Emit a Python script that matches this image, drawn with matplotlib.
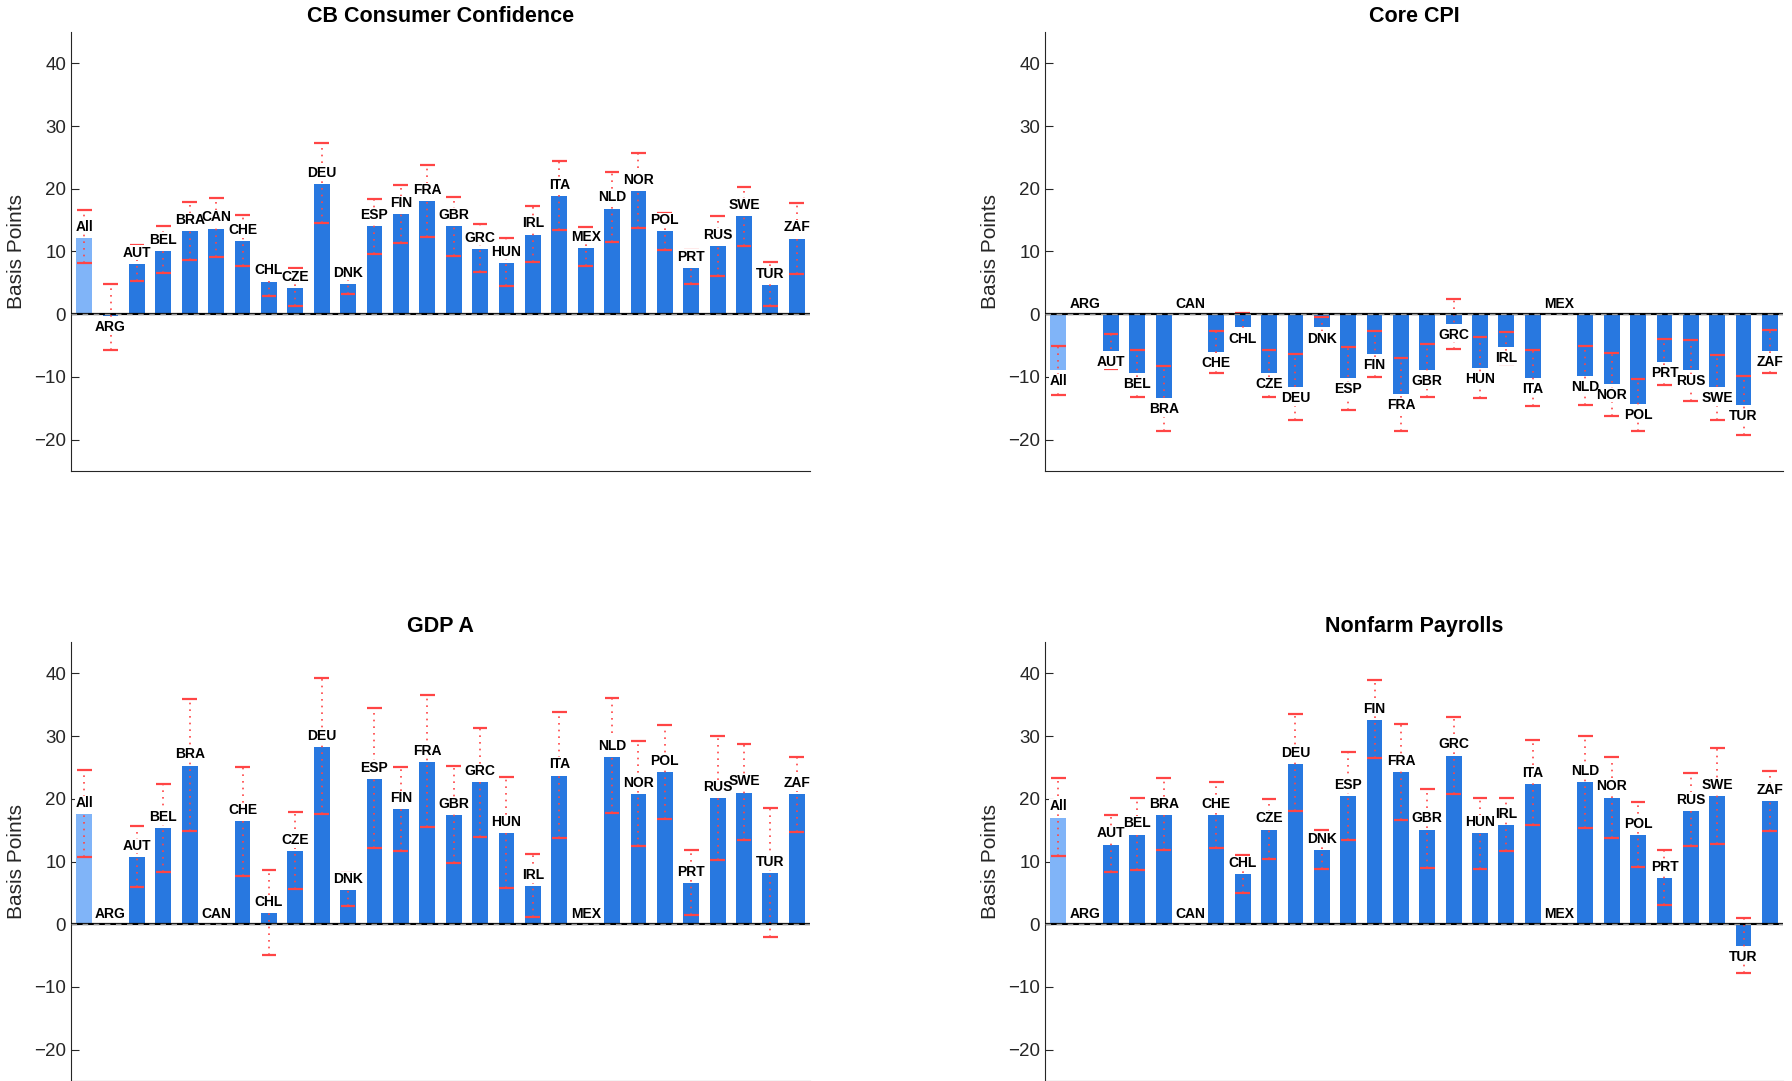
import numpy as np
import matplotlib
matplotlib.use("Agg")
import matplotlib.pyplot as plt

plt.rcParams["font.family"] = ["Liberation Sans", "DejaVu Sans"]

countries = ["All", "ARG", "AUT", "BEL", "BRA", "CAN", "CHE", "CHL", "CZE", "DEU",
             "DNK", "ESP", "FIN", "FRA", "GBR", "GRC", "HUN", "IRL", "ITA", "MEX",
             "NLD", "NOR", "POL", "PRT", "RUS", "SWE", "TUR", "ZAF"]

titles = ["CB Consumer Confidence", "Core CPI", "GDP A", "Nonfarm Payrolls"]

nan = np.nan

# CB Consumer Confidence: bar value, lower and upper bound
cb_val = [12.2, -0.3, 8.05, 10.1, 13.2, 13.65, 11.6, 5.2, 4.2, 20.7,
          4.85, 14.0, 15.9, 18.0, 14.0, 10.45, 8.2, 12.7, 18.8, 10.6,
          16.85, 19.6, 13.2, 7.4, 10.8, 15.6, 4.7, 12.05]
cb_lo = [8.2, -5.7, 5.3, 6.6, 8.7, 9.2, 7.7, 2.9, 1.3, 14.5,
         3.25, 9.6, 11.4, 12.3, 9.3, 6.8, 4.5, 8.4, 13.5, 7.7,
         11.5, 13.8, 10.3, 4.85, 6.1, 10.9, 1.3, 6.45]
cb_hi = [16.6, 4.85, 11.1, 14.0, 17.9, 18.5, 15.8, 7.4, 7.3, 27.25,
         6.3, 18.4, 20.6, 23.8, 18.7, 14.35, 12.2, 17.2, 24.4, 13.9,
         22.6, 25.7, 16.2, 10.2, 15.7, 20.3, 8.4, 17.8]

# Core CPI
cpi_val = [-8.9, nan, -5.8, -9.4, -13.4, nan, -6.0, -2.1, -9.4, -11.6,
           -2.1, -10.2, -6.3, -12.7, -8.9, -1.5, -8.55, -5.2, -10.2, nan,
           -9.8, -11.1, -14.3, -7.6, -8.9, -11.6, -14.5, -5.8]
cpi_lo = [-12.9, nan, -8.7, -13.2, -18.6, nan, -9.4, -4.3, -13.2, -16.8,
          -3.8, -15.2, -10.05, -18.6, -13.15, -5.6, -13.4, -8.0, -14.65, nan,
          -14.5, -16.3, -18.7, -11.3, -13.85, -16.9, -19.25, -9.4]
cpi_hi = [-5.0, nan, -3.15, -5.7, -8.3, nan, -2.6, 0.15, -5.7, -6.4,
          -0.5, -5.2, -2.7, -7.05, -4.8, 2.5, -3.7, -2.8, -5.7, nan,
          -5.1, -6.25, -10.3, -3.9, -4.1, -6.5, -9.9, -2.5]

# GDP A
gdp_val = [17.5, nan, 10.7, 15.3, 25.3, nan, 16.4, 1.75, 11.6, 28.3,
           5.4, 23.2, 18.3, 25.9, 17.35, 22.6, 14.5, 6.05, 23.7, nan,
           26.7, 20.7, 24.2, 6.5, 20.05, 21.0, 8.1, 20.7]
gdp_lo = [10.7, nan, 5.9, 8.3, 14.85, nan, 7.7, -4.9, 5.6, 17.5,
          2.9, 12.2, 11.7, 15.5, 9.8, 13.85, 5.7, 1.1, 13.8, nan,
          17.7, 12.5, 16.8, 1.4, 10.3, 13.5, -2.1, 14.75]
gdp_hi = [24.6, nan, 15.65, 22.3, 35.9, nan, 25.1, 8.65, 17.9, 39.3,
          8.2, 34.4, 25.1, 36.55, 25.3, 31.35, 23.5, 11.2, 33.9, nan,
          36.0, 29.2, 31.7, 11.8, 30.0, 28.7, 18.5, 26.7]

# Nonfarm Payrolls
nfp_val = [17.0, nan, 12.7, 14.3, 17.35, nan, 17.35, 7.95, 15.1, 25.6,
           11.8, 20.4, 32.6, 24.2, 15.1, 26.9, 14.5, 15.75, 22.4, nan,
           22.6, 20.2, 14.2, 7.3, 18.1, 20.4, -3.45, 19.6]
nfp_lo = [10.9, nan, 8.3, 8.7, 11.8, nan, 12.15, 4.9, 10.35, 18.0,
          8.75, 13.5, 26.5, 16.55, 8.95, 20.8, 8.8, 11.7, 15.75, nan,
          15.4, 13.8, 9.1, 3.0, 12.5, 12.8, -7.8, 14.85]
nfp_hi = [23.3, nan, 17.4, 20.2, 23.3, nan, 22.7, 11.0, 19.9, 33.5,
          15.0, 27.4, 38.9, 32.0, 21.6, 33.1, 20.2, 20.05, 29.4, nan,
          30.0, 26.7, 19.5, 11.9, 24.1, 28.1, 0.95, 24.4]

panels = [(cb_val, cb_lo, cb_hi), (cpi_val, cpi_lo, cpi_hi),
          (gdp_val, gdp_lo, gdp_hi), (nfp_val, nfp_lo, nfp_hi)]

blue = "#2878e0"
light_blue = "#80b4f8"
red = "#ff4545"

fig = plt.figure(figsize=(17.92, 10.81), dpi=100)
positions = [[0.0396, 0.5643, 0.4124, 0.4061],
             [0.5832, 0.5643, 0.4118, 0.4061],
             [0.0396, 0.0, 0.4124, 0.4061],
             [0.5832, 0.0, 0.4118, 0.4061]]

x = np.arange(1, len(countries) + 1)
bar_w = 0.6
label_fs = 10
label_box = dict(facecolor="white", edgecolor="none", pad=0.3)

for pos, title, (val, lo, hi) in zip(positions, titles, panels):
    ax = fig.add_axes(pos)
    val = np.array(val, dtype=float)
    lo = np.array(lo, dtype=float)
    hi = np.array(hi, dtype=float)
    colors = [light_blue] + [blue] * (len(countries) - 1)
    ax.bar(x, np.nan_to_num(val), width=bar_w, color=colors, zorder=2)

    ok = ~np.isnan(val)
    ax.vlines(x[ok], lo[ok], hi[ok], colors=red, linestyles=(0, (1, 3)),
              linewidth=1.2, zorder=3)
    ax.hlines(lo[ok], x[ok] - 0.28, x[ok] + 0.28, colors=red, linewidth=1.6, zorder=3)
    ax.hlines(hi[ok], x[ok] - 0.28, x[ok] + 0.28, colors=red, linewidth=1.6, zorder=3)

    ax.axhline(0, color="black", linewidth=1.6, zorder=4)
    ax.axhline(0, color="#9a9a9a", linewidth=1.0, linestyle=(0, (4, 4)), zorder=5)

    # country labels just beyond the end of each bar; white boxes go under all the text
    for xi, v, name in zip(x, val, countries):
        if np.isnan(v):
            yv, dy, va, box = 0, 2, "bottom", False
        elif v > 0:
            yv, dy, va, box = v, 3, "bottom", True
        else:
            yv, dy, va, box = v, -3, "top", True
        if box:
            ax.annotate(name, (xi, yv), xytext=(0, dy), textcoords="offset points",
                        ha="center", va=va, fontsize=label_fs, fontweight="bold",
                        color="white", bbox=label_box, zorder=5.5)
        ax.annotate(name, (xi, yv), xytext=(0, dy), textcoords="offset points",
                    ha="center", va=va, fontsize=label_fs, fontweight="bold", zorder=6)

    ax.set_xlim(0.5, len(countries) + 0.5)
    ax.set_ylim(-25, 45)
    ax.set_yticks([-20, -10, 0, 10, 20, 30, 40])
    ax.set_xticks([])
    ax.spines["top"].set_visible(False)
    ax.spines["right"].set_visible(False)
    ax.spines["left"].set_color("#262626")
    ax.spines["bottom"].set_color("#262626")
    ax.tick_params(axis="y", direction="in", length=6, labelsize=13.5, colors="#262626")
    ax.set_ylabel("Basis Points", fontsize=15, color="#262626", labelpad=6)
    ax.set_title(title, fontsize=15.5, fontweight="bold", pad=7)

fig.savefig("out.png", dpi=100)
